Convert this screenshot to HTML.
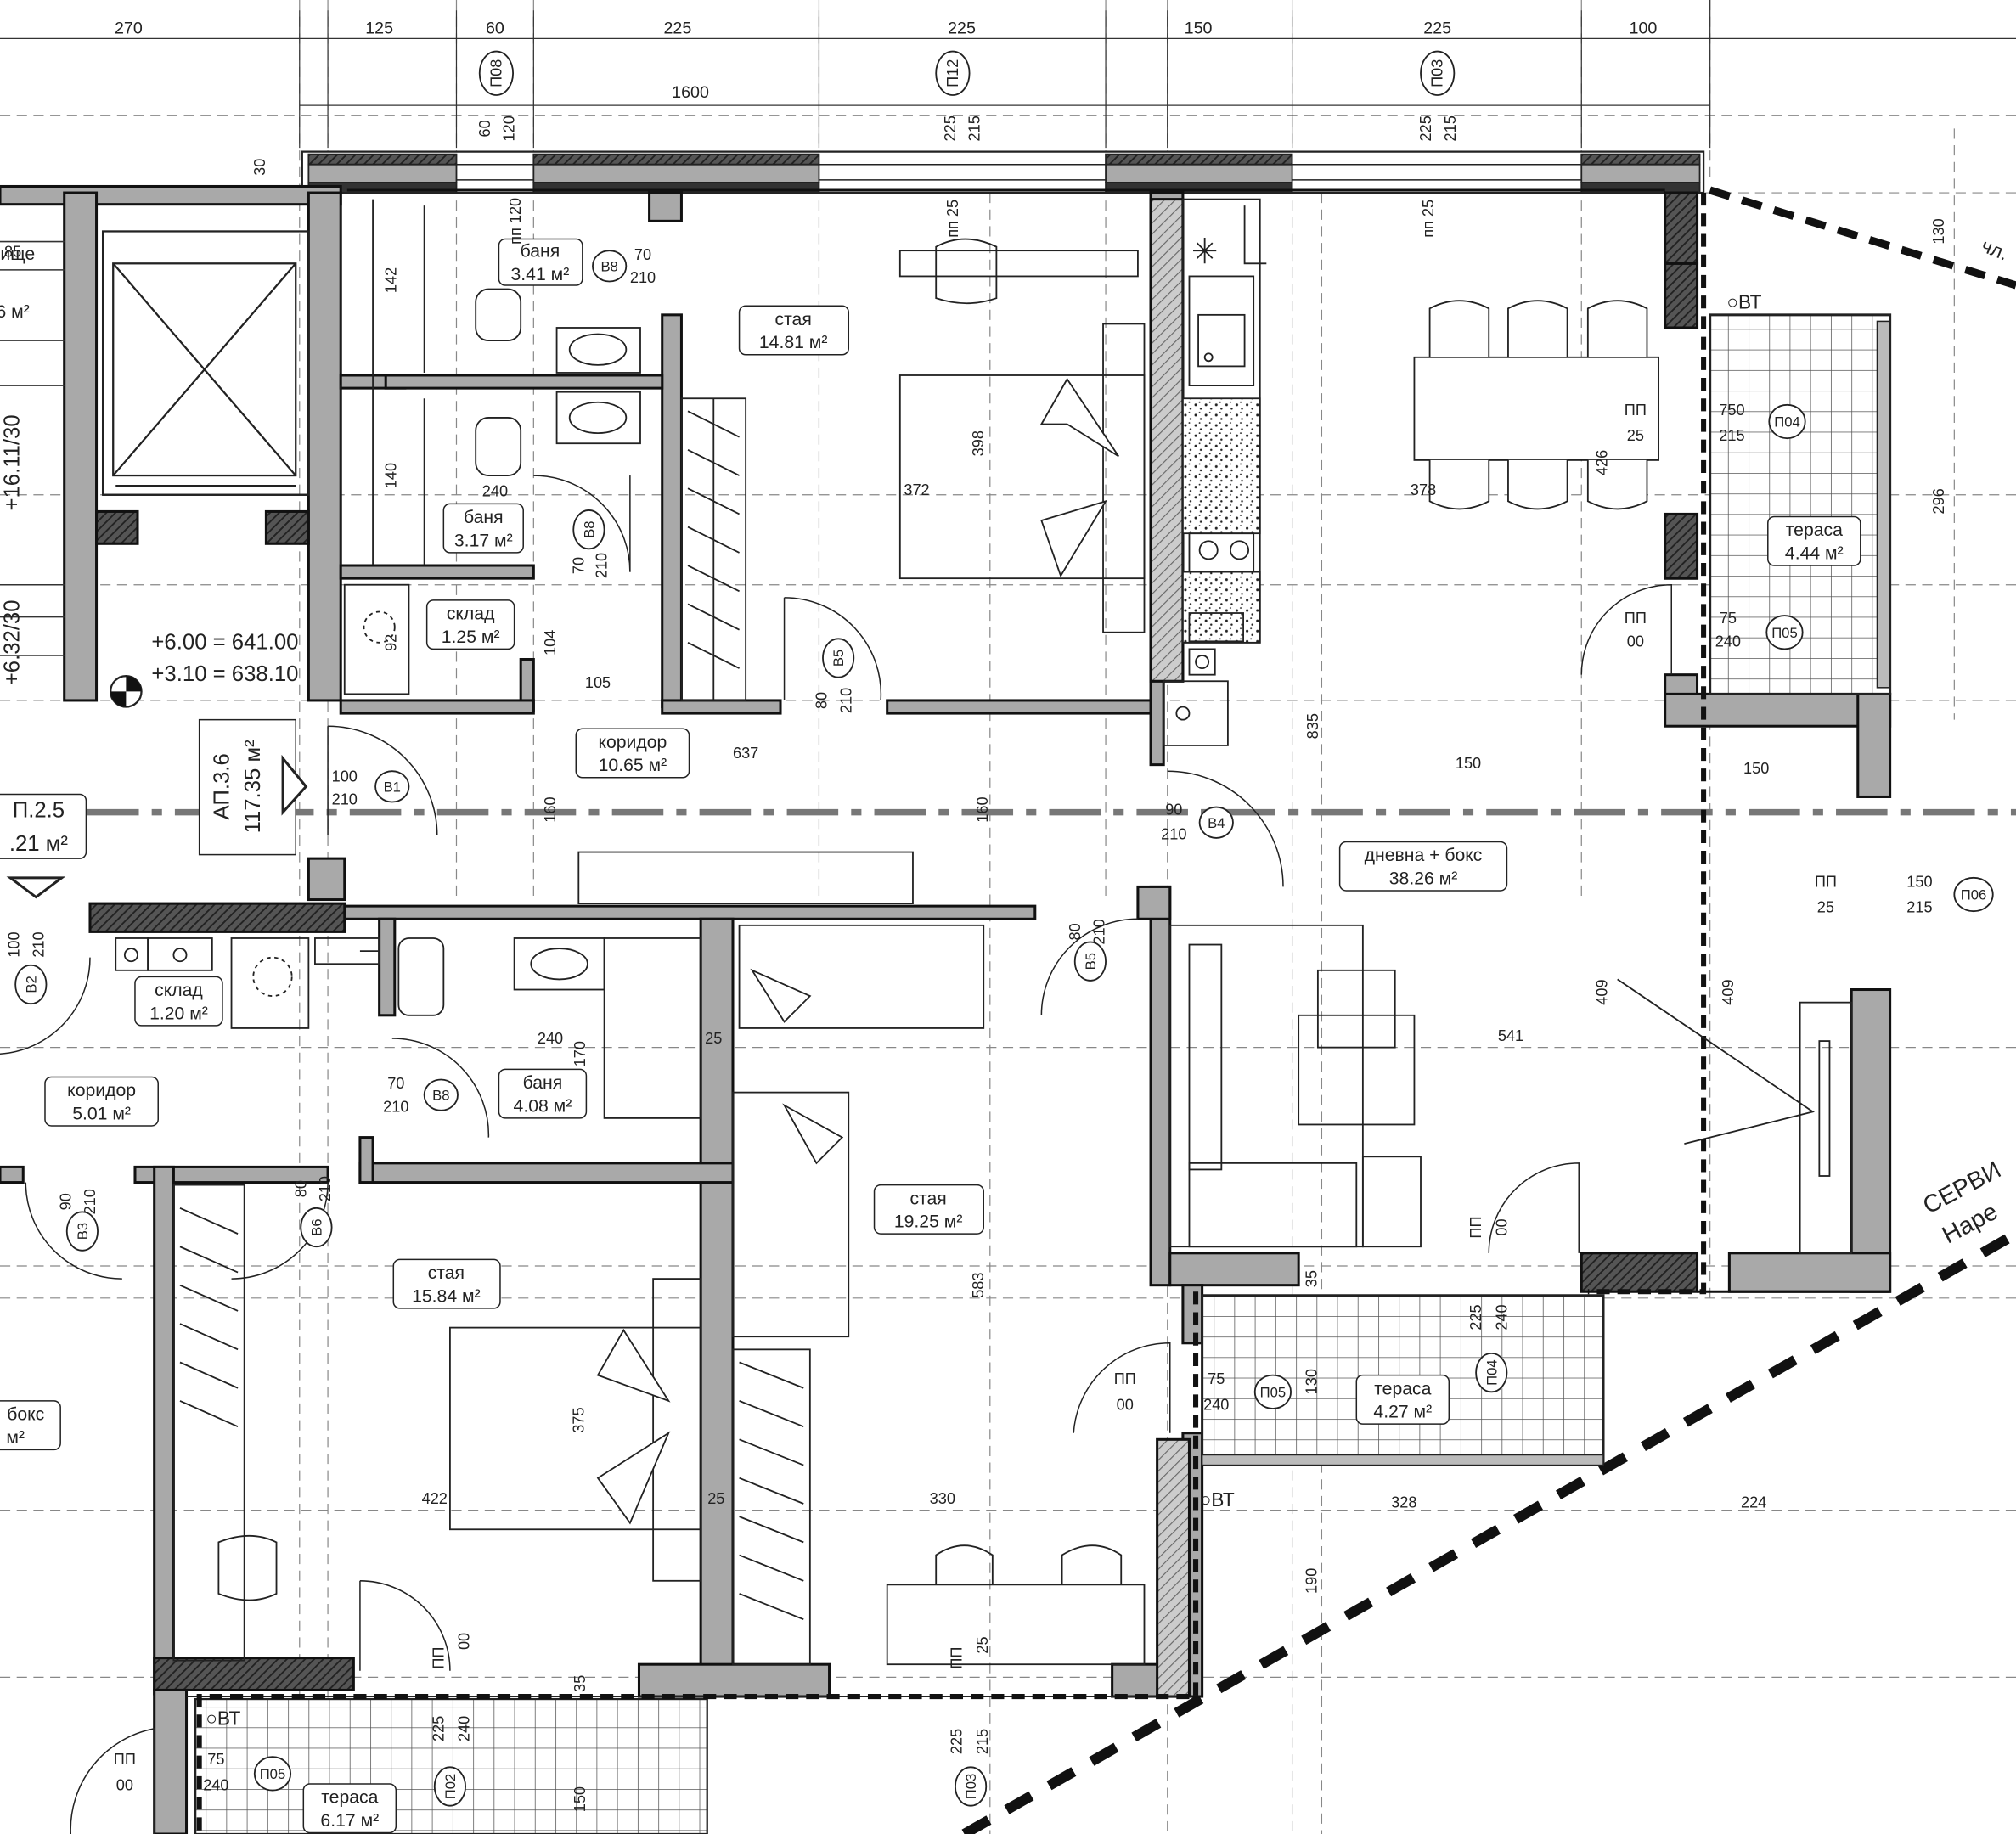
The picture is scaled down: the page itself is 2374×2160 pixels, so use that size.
<!DOCTYPE html>
<html><head><meta charset="utf-8"><style>
html,body{margin:0;padding:0;background:#fff;}
svg{display:block}
text{font-family:"Liberation Sans",sans-serif;fill:#222;}
</style></head><body>
<svg width="2374" height="2160" viewBox="0 0 1568 1427" preserveAspectRatio="none" xmlns="http://www.w3.org/2000/svg">
<defs>
<pattern id="h" width="5" height="5" patternUnits="userSpaceOnUse" patternTransform="rotate(45)"><rect width="5" height="5" fill="#555"/><line x1="0" y1="0" x2="0" y2="5" stroke="#222" stroke-width="2.5"/></pattern>
<pattern id="hl" width="6" height="6" patternUnits="userSpaceOnUse" patternTransform="rotate(45)"><rect width="6" height="6" fill="#ccc"/><line x1="0" y1="0" x2="0" y2="6" stroke="#666" stroke-width="1.5"/></pattern>
<pattern id="tile" width="16" height="16" patternUnits="userSpaceOnUse"><rect width="16" height="16" fill="#fff"/><path d="M0 0H16M0 0V16" stroke="#555" stroke-width="1"/></pattern>
<pattern id="gr" width="8" height="8" patternUnits="userSpaceOnUse"><rect width="8" height="8" fill="#fff"/><circle cx="2" cy="3" r="1" fill="#222"/><circle cx="6" cy="6" r="0.8" fill="#222"/><circle cx="5" cy="1" r="0.6" fill="#222"/></pattern>
</defs>
<rect width="1568" height="1427" fill="#fff"/>

<!-- grid / dim lines -->
<g stroke="#888" stroke-width="0.8" stroke-dasharray="8 5" fill="none">
<path d="M0 150H1568M0 385H1568M0 455H1568M0 545H1568M0 815H1568M0 985H1568M0 1010H1568M0 1175H1568M0 1305H1568M0 90H1568"/>
<path d="M233 0V1427M255 0V1427M355 0V700M415 0V700M637 0V700M860 0V700M908 0V1427M1005 0V1427M1230 0V700M1330 0V140M770 150V1427M1028 150V1427M1330 560V1010M1520 100V560"/>
</g>
<g stroke="#333" stroke-width="0.8" fill="none">
<path d="M0 30H1568"/>
<path d="M233 8V115M255 8V115M355 8V115M415 8V115M637 8V115M860 8V115M908 8V115M1005 8V115M1230 8V115M1330 0V115"/>
<path d="M233 82H1330"/>
</g>
<g font-size="13" text-anchor="middle">
<text x="100" y="26">270</text><text x="295" y="26">125</text><text x="385" y="26">60</text><text x="527" y="26">225</text><text x="748" y="26">225</text><text x="932" y="26">150</text><text x="1118" y="26">225</text><text x="1278" y="26">100</text>
<text x="537" y="76">1600</text>
</g>
<!-- axis circles top -->
<g fill="none" stroke="#222" stroke-width="1.2">
<ellipse cx="386" cy="57" rx="13" ry="17"/><ellipse cx="741" cy="57" rx="13" ry="17"/><ellipse cx="1118" cy="57" rx="13" ry="17"/>
</g>
<g font-size="12" text-anchor="middle">
<text transform="translate(390,57) rotate(-90)">П08</text><text transform="translate(745,57) rotate(-90)">П12</text><text transform="translate(1122,57) rotate(-90)">П03</text>
<text transform="translate(381,100) rotate(-90)">60</text><text transform="translate(400,100) rotate(-90)">120</text>
<text transform="translate(743,100) rotate(-90)">225</text><text transform="translate(762,100) rotate(-90)">215</text>
<text transform="translate(1113,100) rotate(-90)">225</text><text transform="translate(1132,100) rotate(-90)">215</text>
<text transform="translate(206,130) rotate(-90)">30</text>
</g>

<!-- dash-dot axis -->
<path d="M0 632H1568" stroke="#777" stroke-width="5" stroke-dasharray="40 10 8 10"/>
<!-- thick dashed boundary -->
<path d="M1330 148L1568 222" stroke="#111" stroke-width="6" stroke-dasharray="16 10"/>
<path d="M750 1427L1568 960" stroke="#111" stroke-width="8" stroke-dasharray="22 16"/>

<!-- exterior top wall -->
<rect x="235" y="118" width="1090" height="32" fill="#fff" stroke="#222" stroke-width="1.5"/>
<g stroke="#222" stroke-width="1.2">
<rect x="240" y="120" width="115" height="8" fill="url(#h)"/><rect x="240" y="128" width="115" height="14" fill="#aaa"/><rect x="240" y="142" width="115" height="8" fill="#333"/>
<rect x="415" y="120" width="222" height="8" fill="url(#h)"/><rect x="415" y="128" width="222" height="14" fill="#aaa"/><rect x="415" y="142" width="222" height="8" fill="#333"/>
<rect x="860" y="120" width="145" height="8" fill="url(#h)"/><rect x="860" y="128" width="145" height="14" fill="#aaa"/><rect x="860" y="142" width="145" height="8" fill="#333"/>
<rect x="1230" y="120" width="92" height="8" fill="url(#h)"/><rect x="1230" y="128" width="92" height="14" fill="#aaa"/><rect x="1230" y="142" width="92" height="8" fill="#333"/>
</g>
<path d="M355 128H415M355 140H415M637 128H860M637 140H860M1005 128H1230M1005 140H1230" stroke="#222" stroke-width="1"/>

<!-- walls gray -->
<g fill="#a9a9a9" stroke="#111" stroke-width="2">
<rect x="0" y="145" width="265" height="14"/>
<rect x="50" y="150" width="25" height="395"/>
<rect x="240" y="150" width="25" height="395"/>
<rect x="505" y="150" width="25" height="22"/>
<rect x="515" y="245" width="15" height="305"/>
<rect x="265" y="292" width="50" height="10"/><rect x="300" y="292" width="215" height="10"/>
<rect x="265" y="440" width="150" height="10"/>
<rect x="405" y="513" width="10" height="40"/>
<rect x="265" y="545" width="150" height="10"/>
<rect x="515" y="545" width="92" height="10"/>
<rect x="690" y="545" width="210" height="10"/>
<rect x="895" y="150" width="25" height="380"/>
<rect x="895" y="530" width="10" height="65"/>
<rect x="1295" y="150" width="25" height="105"/>
<rect x="1295" y="400" width="25" height="50"/>
<rect x="1295" y="525" width="25" height="20"/>
<rect x="1295" y="540" width="175" height="25"/>
<rect x="1445" y="540" width="25" height="80"/>
<rect x="1440" y="770" width="30" height="235"/>
<rect x="1345" y="975" width="125" height="30"/>
<rect x="1230" y="975" width="90" height="30" fill="url(#h)"/>
<rect x="240" y="668" width="28" height="32"/>
<rect x="268" y="705" width="537" height="10"/>
<rect x="295" y="715" width="12" height="75"/>
<rect x="545" y="715" width="25" height="595"/>
<rect x="280" y="905" width="290" height="15"/>
<rect x="280" y="885" width="10" height="35"/>
<rect x="105" y="908" width="150" height="12"/>
<rect x="120" y="908" width="15" height="410"/>
<rect x="0" y="908" width="18" height="12"/>
<rect x="895" y="690" width="15" height="310"/>
<rect x="885" y="690" width="25" height="25"/>
<rect x="910" y="975" width="100" height="25"/>
<rect x="920" y="1000" width="15" height="45"/>
<rect x="920" y="1115" width="15" height="205"/>
<rect x="120" y="1290" width="155" height="25" fill="url(#h)"/>
<rect x="497" y="1295" width="148" height="25"/>
<rect x="865" y="1295" width="55" height="25"/>
<rect x="75" y="398" width="32" height="25" fill="url(#h)"/>
<rect x="207" y="398" width="33" height="25" fill="url(#h)"/>
<rect x="70" y="703" width="198" height="22" fill="url(#h)"/>
<rect x="1295" y="205" width="25" height="50" fill="url(#h)"/>
<rect x="1295" y="400" width="25" height="50" fill="url(#h)"/>
<rect x="1295" y="150" width="25" height="55" fill="url(#h)"/>
<rect x="895" y="155" width="25" height="375" fill="url(#hl)"/>
<rect x="900" y="1120" width="25" height="200" fill="url(#hl)"/>
<rect x="120" y="1315" width="25" height="112"/>
</g>
<path d="M270 148H1295M1320 1005H1470" stroke="#111" stroke-width="2"/>
<!-- interior thin wall lines -->
<g stroke="#222" stroke-width="1.2" fill="none">
<path d="M265 160V290M330 160V290M265 300V440M330 310V440M290 155V440M280 740H295M920 1320H145"/>
</g>

<!-- elevator -->
<g stroke="#222" stroke-width="1.5" fill="none">
<rect x="80" y="180" width="160" height="205"/>
<rect x="88" y="205" width="142" height="165"/>
<path d="M88 205L230 370M230 205L88 370"/>
<path d="M80 385H240M90 378H230"/>
</g>
<!-- stair left -->
<g stroke="#333" stroke-width="1" fill="none">
<path d="M0 188H50M0 210H50M0 265H50M0 300H50M0 455H50M0 480H50M0 510H50"/>
</g>

<!-- terraces -->
<rect x="1330" y="245" width="140" height="295" fill="url(#tile)" stroke="#222" stroke-width="2"/>
<rect x="1460" y="250" width="10" height="285" fill="#bbb" stroke="#222"/>
<rect x="935" y="1008" width="312" height="130" fill="url(#tile)" stroke="#222" stroke-width="2"/>
<rect x="935" y="1132" width="312" height="8" fill="#bbb" stroke="#222"/>
<rect x="152" y="1322" width="398" height="105" fill="url(#tile)" stroke="#222" stroke-width="1.5"/>
<g stroke="#111" stroke-width="4" stroke-dasharray="10 6" fill="none">
<path d="M1325 150V1005H1235"/><path d="M930 1005V1320H155V1427"/>
</g>

<!-- kitchen -->
<g stroke="#222" stroke-width="1.2" fill="none">
<rect x="920" y="155" width="60" height="345"/>
<rect x="925" y="215" width="50" height="85"/><rect x="932" y="245" width="36" height="40"/><circle cx="940" cy="278" r="3"/>
<rect x="920" y="310" width="60" height="105" fill="url(#gr)"/>
<rect x="920" y="445" width="60" height="55" fill="url(#gr)"/>
<rect x="925" y="415" width="50" height="30"/><circle cx="940" cy="428" r="7"/><circle cx="964" cy="428" r="7"/>
<rect x="925" y="477" width="42" height="22"/>
<rect x="925" y="505" width="20" height="20"/><circle cx="935" cy="515" r="5"/>
<rect x="905" y="530" width="50" height="50"/><circle cx="920" cy="555" r="5"/>
<path d="M937 185V205M928 195H946M931 189L943 201M943 189L931 201"/>
<path d="M968 160V205H985"/>
</g>
<!-- dining -->
<g stroke="#222" stroke-width="1.2" fill="#fff">
<rect x="1100" y="278" width="190" height="80"/>
<path d="M1112 278V240Q1135 228 1158 240V278M1173 278V240Q1196 228 1219 240V278M1235 278V240Q1258 228 1281 240V278"/>
<path d="M1112 358V390Q1135 402 1158 390V358M1173 358V390Q1196 402 1219 390V358M1235 358V390Q1258 402 1281 390V358"/>
</g>
<!-- beds / furniture -->
<g stroke="#222" stroke-width="1.2" fill="none">
<rect x="700" y="292" width="190" height="158"/><rect x="858" y="252" width="32" height="240"/>
<path d="M810 330L830 295L870 355L830 330Z" fill="#fff"/><path d="M810 405L860 390L825 448Z" fill="#fff"/>
<rect x="700" y="195" width="185" height="20"/><path d="M728 215V192Q750 180 775 192V232Q752 240 728 232Z"/>
<rect x="530" y="310" width="50" height="235"/>
<path d="M535 320L575 340M535 350L575 370M535 380L575 400M535 410L575 430M535 440L575 460M535 470L575 490M535 500L575 520M555 310V545"/>
<rect x="350" y="1033" width="195" height="157"/><rect x="508" y="995" width="37" height="235"/>
<path d="M520 1090L485 1035L465 1070Z" fill="#fff"/><path d="M520 1115L465 1150L490 1185Z" fill="#fff"/>
<rect x="135" y="922" width="55" height="370"/><path d="M140 940L185 960M140 970L185 990M140 1000L185 1020M140 1030L185 1050M140 1060L185 1080M140 1090L185 1110"/>
<path d="M170 1200Q195 1190 215 1200V1240Q195 1250 170 1240Z"/>
<rect x="570" y="1050" width="60" height="245"/><path d="M575 1060L625 1080M575 1090L625 1110M575 1120L625 1140M575 1150L625 1170M575 1180L625 1200M575 1210L625 1230M575 1240L625 1260"/>
<rect x="690" y="1233" width="200" height="62"/><path d="M728 1233V1210Q750 1195 772 1210V1233M826 1233V1210Q850 1195 872 1210V1233"/>
<rect x="575" y="720" width="190" height="80"/><path d="M585 755L630 775L610 795Z" fill="#fff"/>
<rect x="570" y="850" width="90" height="190"/><path d="M610 860L655 885L635 905Z" fill="#fff"/>
<rect x="450" y="663" width="260" height="40"/>
<rect x="910" y="720" width="150" height="250"/><rect x="925" y="735" width="25" height="175"/><rect x="925" y="905" width="130" height="65"/>
<rect x="1010" y="790" width="90" height="85"/><rect x="1025" y="755" width="60" height="60"/>
<rect x="1060" y="900" width="45" height="70"/>
<rect x="1400" y="780" width="40" height="195"/><rect x="1415" y="810" width="8" height="105"/>
<path d="M1258 762L1410 865L1310 890"/>
<rect x="370" y="225" width="35" height="40" rx="10"/><rect x="433" y="255" width="65" height="35"/><ellipse cx="465" cy="272" rx="22" ry="12"/>
<rect x="433" y="305" width="65" height="40"/><ellipse cx="465" cy="325" rx="22" ry="12"/><rect x="370" y="325" width="35" height="45" rx="10"/>
<rect x="268" y="455" width="50" height="85"/><circle cx="295" cy="488" r="12" stroke-dasharray="3 3"/>
<rect x="310" y="730" width="35" height="60" rx="8"/><rect x="400" y="730" width="70" height="40"/><ellipse cx="435" cy="750" rx="22" ry="12"/>
<rect x="470" y="730" width="75" height="140"/>
<rect x="90" y="730" width="25" height="25"/><rect x="115" y="730" width="50" height="25"/><circle cx="140" cy="743" r="5"/><circle cx="102" cy="743" r="5"/>
<rect x="180" y="730" width="60" height="70"/><circle cx="212" cy="760" r="15" stroke-dasharray="3 3"/>
<rect x="245" y="730" width="50" height="20"/>
</g>
<!-- doors -->
<g stroke="#222" stroke-width="1" fill="none">
<path d="M255 565A85 85 0 0 1 340 650"/><path d="M255 565V650"/>
<path d="M415 370A75 75 0 0 1 490 445"/><path d="M490 370V445"/>
<path d="M610 465A75 75 0 0 1 685 545"/><path d="M610 465V545"/>
<path d="M908 600A90 90 0 0 1 998 690"/>
<path d="M885 715A75 75 0 0 0 810 790"/>
<path d="M305 808A75 75 0 0 1 380 885"/>
<path d="M20 920A75 75 0 0 0 95 995"/>
<path d="M255 920A75 75 0 0 1 180 995"/>
<path d="M280 1230A70 70 0 0 1 350 1300"/><path d="M280 1230V1300"/>
<path d="M1230 525A70 70 0 0 1 1300 455V525"/>
<path d="M835 1115A75 75 0 0 1 910 1045V1115"/>
<path d="M1158 975A70 70 0 0 1 1228 905V975"/>
<path d="M55 1427A80 80 0 0 1 120 1345V1427"/>
<path d="M0 820A75 75 0 0 0 70 745"/>
</g>

<!-- room labels -->
<g stroke="#222" stroke-width="1" fill="#fff">
<rect x="388" y="186" width="65" height="36" rx="5"/>
<rect x="575" y="238" width="85" height="38" rx="5"/>
<rect x="345" y="392" width="62" height="38" rx="5"/>
<rect x="332" y="467" width="68" height="38" rx="5"/>
<rect x="448" y="567" width="88" height="38" rx="5"/>
<rect x="1042" y="655" width="130" height="38" rx="5"/>
<rect x="1375" y="402" width="72" height="38" rx="5"/>
<rect x="105" y="760" width="68" height="38" rx="5"/>
<rect x="35" y="838" width="88" height="38" rx="5"/>
<rect x="388" y="832" width="68" height="38" rx="5"/>
<rect x="680" y="922" width="85" height="38" rx="5"/>
<rect x="306" y="980" width="83" height="38" rx="5"/>
<rect x="1055" y="1070" width="72" height="38" rx="5"/>
<rect x="236" y="1388" width="72" height="38" rx="5"/>
<rect x="-5" y="1090" width="52" height="38" rx="5"/>
<rect x="-5" y="618" width="72" height="50" rx="5"/>
<rect x="155" y="560" width="75" height="105"/>
</g>
<g font-size="14" text-anchor="middle">
<text x="420" y="200">баня</text><text x="420" y="218">3.41 м²</text>
<text x="617" y="253">стая</text><text x="617" y="271">14.81 м²</text>
<text x="376" y="407">баня</text><text x="376" y="425">3.17 м²</text>
<text x="366" y="482">склад</text><text x="366" y="500">1.25 м²</text>
<text x="492" y="582">коридор</text><text x="492" y="600">10.65 м²</text>
<text x="1107" y="670">дневна + бокс</text><text x="1107" y="688">38.26 м²</text>
<text x="1411" y="417">тераса</text><text x="1411" y="435">4.44 м²</text>
<text x="139" y="775">склад</text><text x="139" y="793">1.20 м²</text>
<text x="79" y="853">коридор</text><text x="79" y="871">5.01 м²</text>
<text x="422" y="847">баня</text><text x="422" y="865">4.08 м²</text>
<text x="722" y="937">стая</text><text x="722" y="955">19.25 м²</text>
<text x="347" y="995">стая</text><text x="347" y="1013">15.84 м²</text>
<text x="1091" y="1085">тераса</text><text x="1091" y="1103">4.27 м²</text>
<text x="272" y="1403">тераса</text><text x="272" y="1421">6.17 м²</text>
<text x="20" y="1105">бокс</text><text x="12" y="1123">м²</text>
<text x="30" y="636" font-size="17">П.2.5</text><text x="30" y="662" font-size="17">.21 м²</text>
<text x="10" y="202">вище</text><text x="10" y="247">6 м²</text>
<text x="10" y="200" font-size="12">85</text>
</g>
<g font-size="17" text-anchor="middle">
<text transform="translate(178,612) rotate(-90)">АП.3.6</text>
<text transform="translate(202,612) rotate(-90)">117.35 м²</text>
<text transform="translate(15,360) rotate(-90)">+16.11/30</text>
<text transform="translate(15,500) rotate(-90)">+6.32/30</text>
<text x="175" y="505" text-anchor="middle">+6.00 = 641.00</text>
<text x="175" y="530" text-anchor="middle">+3.10 = 638.10</text>
</g>
<path d="M220 590L238 612L220 632Z" fill="#fff" stroke="#222" stroke-width="2"/>
<path d="M8 683L48 683L28 698Z" fill="#fff" stroke="#222" stroke-width="2"/>
<circle cx="98" cy="538" r="12" fill="#fff" stroke="#222" stroke-width="1.5"/><path d="M98 526A12 12 0 0 1 110 538H98ZM98 550A12 12 0 0 1 86 538H98Z" fill="#111"/>

<!-- door/dim labels small -->
<g font-size="12" text-anchor="middle">
<text x="500" y="202">70</text><text x="500" y="220">210</text>
<text x="268" y="608">100</text><text x="268" y="626">210</text>
<text x="913" y="634">90</text><text x="913" y="653">210</text>
<text x="308" y="847">70</text><text x="308" y="865">210</text>
<text x="1272" y="485">ПП</text><text x="1272" y="503">00</text>
<text x="1272" y="323">ПП</text><text x="1272" y="343">25</text>
<text x="1347" y="323">750</text><text x="1347" y="343">215</text>
<text x="1344" y="485">75</text><text x="1344" y="503">240</text>
<text x="1420" y="690">ПП</text><text x="1420" y="710">25</text>
<text x="1493" y="690">150</text><text x="1493" y="710">215</text>
<text x="875" y="1077">ПП</text><text x="875" y="1097">00</text>
<text x="946" y="1077">75</text><text x="946" y="1097">240</text>
<text x="97" y="1373">ПП</text><text x="97" y="1393">00</text>
<text x="168" y="1373">75</text><text x="168" y="1393">240</text>
<text x="713" y="385">372</text><text x="1107" y="385">378</text><text x="385" y="386">240</text>
<text x="580" y="590">637</text><text x="465" y="535">105</text><text x="428" y="812">240</text>
<text x="1175" y="810">541</text><text x="1142" y="598">150</text><text x="1092" y="1173">328</text><text x="1364" y="1173">224</text>
<text x="338" y="1170">422</text><text x="733" y="1170">330</text>
<text x="555" y="812">25</text><text x="557" y="1170">25</text><text x="1366" y="602">150</text>
</g>
<g font-size="12" text-anchor="middle">
<text transform="translate(765,345) rotate(-90)">398</text>
<text transform="translate(1025,565) rotate(-90)">835</text>
<text transform="translate(1250,360) rotate(-90)">426</text>
<text transform="translate(1250,772) rotate(-90)">409</text>
<text transform="translate(1348,772) rotate(-90)">409</text>
<text transform="translate(1512,390) rotate(-90)">296</text>
<text transform="translate(1512,180) rotate(-90)">130</text>
<text transform="translate(765,1000) rotate(-90)">583</text>
<text transform="translate(454,1105) rotate(-90)">375</text>
<text transform="translate(308,218) rotate(-90)">142</text>
<text transform="translate(308,370) rotate(-90)">140</text>
<text transform="translate(308,500) rotate(-90)">92</text>
<text transform="translate(432,500) rotate(-90)">104</text>
<text transform="translate(432,630) rotate(-90)">160</text>
<text transform="translate(768,630) rotate(-90)">160</text>
<text transform="translate(455,820) rotate(-90)">170</text>
<text transform="translate(1024,1230) rotate(-90)">190</text>
<text transform="translate(1024,1075) rotate(-90)">130</text>
<text transform="translate(455,1400) rotate(-90)">150</text>
<text transform="translate(455,1310) rotate(-90)">35</text>
<text transform="translate(1024,995) rotate(-90)">35</text>
<text transform="translate(405,172) rotate(-90)">пп 120</text>
<text transform="translate(745,170) rotate(-90)">пп 25</text>
<text transform="translate(1115,170) rotate(-90)">пп 25</text>
<text transform="translate(454,440) rotate(-90)">70</text><text transform="translate(472,440) rotate(-90)">210</text>
<text transform="translate(643,545) rotate(-90)">80</text><text transform="translate(662,545) rotate(-90)">210</text>
<text transform="translate(840,725) rotate(-90)">80</text><text transform="translate(859,725) rotate(-90)">210</text>
<text transform="translate(15,735) rotate(-90)">100</text><text transform="translate(34,735) rotate(-90)">210</text>
<text transform="translate(55,935) rotate(-90)">90</text><text transform="translate(74,935) rotate(-90)">210</text>
<text transform="translate(238,925) rotate(-90)">80</text><text transform="translate(257,925) rotate(-90)">210</text>
<text transform="translate(345,1290) rotate(-90)">ПП</text><text transform="translate(365,1277) rotate(-90)">00</text>
<text transform="translate(748,1290) rotate(-90)">ПП</text><text transform="translate(768,1280) rotate(-90)">25</text>
<text transform="translate(1152,955) rotate(-90)">ПП</text><text transform="translate(1172,955) rotate(-90)">00</text>
<text transform="translate(1152,1025) rotate(-90)">225</text><text transform="translate(1172,1025) rotate(-90)">240</text>
<text transform="translate(345,1345) rotate(-90)">225</text><text transform="translate(365,1345) rotate(-90)">240</text>
<text transform="translate(748,1355) rotate(-90)">225</text><text transform="translate(768,1355) rotate(-90)">215</text>
</g>
<!-- tag circles -->
<g fill="#fff" stroke="#222" stroke-width="1.2">
<ellipse cx="474" cy="207" rx="13" ry="12"/><ellipse cx="305" cy="612" rx="13" ry="12"/><ellipse cx="946" cy="640" rx="13" ry="12"/>
<ellipse cx="343" cy="852" rx="13" ry="12"/><ellipse cx="1390" cy="328" rx="14" ry="13"/><ellipse cx="1388" cy="492" rx="14" ry="13"/>
<ellipse cx="1535" cy="696" rx="15" ry="13"/><ellipse cx="990" cy="1083" rx="14" ry="13"/><ellipse cx="212" cy="1380" rx="14" ry="13"/>
<ellipse cx="458" cy="412" rx="12" ry="15"/><ellipse cx="652" cy="512" rx="12" ry="15"/><ellipse cx="848" cy="748" rx="12" ry="15"/>
<ellipse cx="24" cy="766" rx="12" ry="15"/><ellipse cx="64" cy="958" rx="12" ry="15"/><ellipse cx="246" cy="955" rx="12" ry="15"/>
<ellipse cx="1160" cy="1068" rx="12" ry="15"/><ellipse cx="350" cy="1390" rx="12" ry="15"/><ellipse cx="755" cy="1390" rx="12" ry="15"/>
</g>
<g font-size="11" text-anchor="middle">
<text x="474" y="211">В8</text><text x="305" y="616">В1</text><text x="946" y="644">В4</text><text x="343" y="856">В8</text>
<text x="1390" y="332">П04</text><text x="1388" y="496">П05</text><text x="1535" y="700">П06</text><text x="990" y="1087">П05</text><text x="212" y="1384">П05</text>
<text transform="translate(462,412) rotate(-90)">В8</text><text transform="translate(656,512) rotate(-90)">В5</text><text transform="translate(852,748) rotate(-90)">В5</text>
<text transform="translate(28,766) rotate(-90)">В2</text><text transform="translate(68,958) rotate(-90)">В3</text><text transform="translate(250,955) rotate(-90)">В6</text>
<text transform="translate(1164,1068) rotate(-90)">П04</text><text transform="translate(354,1390) rotate(-90)">П02</text><text transform="translate(759,1390) rotate(-90)">П03</text>
</g>
<g font-size="15">
<text x="1343" y="240">○ВТ</text><text x="933" y="1172">○ВТ</text><text x="160" y="1342">○ВТ</text>
<text x="1540" y="195" transform="rotate(22 1540 195)">чл.</text>
<text x="1500" y="945" font-size="19" transform="rotate(-28 1500 945)">СЕРВИ</text>
<text x="1515" y="968" font-size="19" transform="rotate(-28 1515 968)">Наре</text>
</g>
</svg>
</body></html>
